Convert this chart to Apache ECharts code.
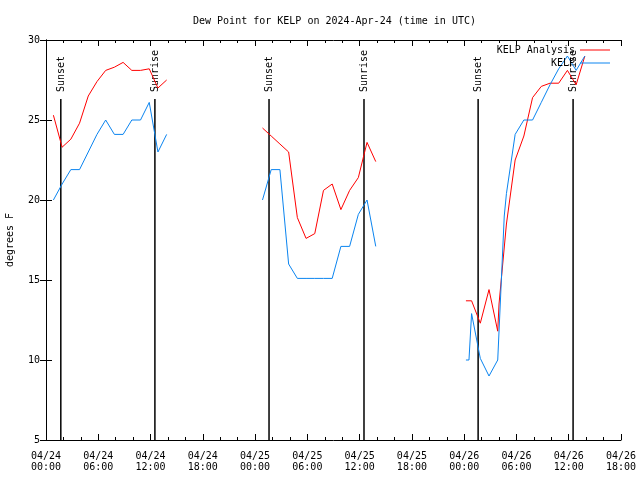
<!DOCTYPE html>
<html>
<head>
<meta charset="utf-8">
<script src="https://cdn.jsdelivr.net/npm/echarts@6/dist/echarts.min.js"></script>
<style>html,body{margin:0;padding:0;background:#fff}#c{width:640px;height:480px}</style>
</head>
<body>
<div id="c"></div>
<script>
// hours since 2024-04-24 00:00 UTC
var analysisHours = [0.85,1.85,2.85,3.85,4.85,5.85,6.85,7.85,8.85,9.85,10.85,11.85,12.85,13.85,
  19,
  24.85,25.85,26.85,27.85,28.85,29.85,30.85,31.85,32.85,33.85,34.85,35.85,36.85,37.85,
  43,
  48.2,48.85,49.85,50.85,51.85,52.0,52.85,53.85,54.85,55.85,56.85,57.85,58.85,59.85,60.85,61.85];
var analysisValues = [25.3,23.3,23.8,24.8,26.5,27.4,28.1,28.3,28.6,28.1,28.1,28.2,27.0,27.5,
  null,
  24.5,24.0,23.5,23.0,18.9,17.6,17.9,20.6,21.0,19.4,20.6,21.4,23.6,22.4,
  null,
  13.7,13.7,12.3,14.4,11.8,13.5,18.5,22.5,24.0,26.4,27.1,27.3,27.3,28.1,27.2,29.0];

var obsHours = [0.85,1.85,2.85,3.85,4.85,5.85,6.85,7.85,8.85,9.85,10.85,11.85,12.85,13.85,
  19,
  24.85,25.85,26.85,27.85,28.85,29.85,30.85,31.85,32.85,33.85,34.85,35.85,36.85,37.85,
  43,
  48.2,48.55,48.85,49.85,50.85,51.85,52.6,52.85,53.85,54.85,55.85,56.85,57.85,58.85,59.85,60.85,61.85];
var obsValues = [20.0,21.0,21.9,21.9,23.0,24.1,25.0,24.1,24.1,25.0,25.0,26.1,23.0,24.1,
  null,
  20.0,21.9,21.9,16.0,15.1,15.1,15.1,15.1,15.1,17.1,17.1,19.1,20.0,17.1,
  null,
  10.0,10.0,12.9,10.1,9.0,10.0,19.0,20.4,24.1,25.0,25.0,26.1,27.2,28.2,29.0,28.1,29.0];

var eventHours = [1.7, 12.5, 25.6, 36.5, 49.6, 60.5];
var eventLabels = ['Sunset','Sunrise','Sunset','Sunrise','Sunset','Sunrise'];

var seriesNames = ['KELP Analysis', 'KELP'];
var titleText = 'Dew Point for KELP on 2024-Apr-24 (time in UTC)';
var yName = 'degrees F';

function zip(a, b) { return a.map(function (v, i) { return [v, b[i]]; }); }

var FONT = 'DejaVu Sans Mono';
var chart = echarts.init(document.getElementById('c'), null, {renderer: 'canvas'});

function xLabel(v) {
  var day = 24 + Math.floor(v / 24);
  var hh = v % 24;
  return '04/' + day + '\n' + (hh < 10 ? '0' : '') + hh + ':00';
}

var tickCommon = {show: true, inside: true, length: 6, lineStyle: {color: '#000'}};
var minorCommon = {show: true, splitNumber: 3, length: 3, lineStyle: {color: '#000'}};

chart.setOption({
  animation: false,
  backgroundColor: '#fff',
  title: {
    text: titleText, left: 188, top: 11,
    textStyle: {fontFamily: FONT, fontSize: 10, fontWeight: 'normal', color: '#000'}
  },
  legend: {
    data: seriesNames, orient: 'vertical', right: 25, top: 39, align: 'right',
    icon: 'rect', itemWidth: 30, itemHeight: 1, itemGap: 1,
    textStyle: {fontFamily: FONT, fontSize: 10, color: '#000', lineHeight: 12}
  },
  grid: {left: 46, right: 19, top: 40, bottom: 40, containLabel: false, outerBoundsMode: 'none'},
  xAxis: [{
    type: 'value', min: 0, max: 66, interval: 6,
    axisLine: {show: true, lineStyle: {color: '#000', width: 1}},
    axisTick: tickCommon, minorTick: minorCommon,
    splitLine: {show: false},
    axisLabel: {formatter: xLabel, fontFamily: FONT, fontSize: 10, color: '#000', lineHeight: 11, margin: 11}
  }, {
    type: 'value', min: 0, max: 66, interval: 6, position: 'top',
    axisLine: {show: true, lineStyle: {color: '#000', width: 1}},
    axisTick: tickCommon, minorTick: minorCommon,
    splitLine: {show: false}, axisLabel: {show: false}
  }],
  yAxis: [{
    type: 'value', min: 5, max: 30, interval: 5,
    name: yName, nameLocation: 'middle', nameGap: 31,
    nameTextStyle: {fontFamily: FONT, fontSize: 10, color: '#000'},
    axisLine: {show: true, lineStyle: {color: '#000', width: 1}},
    axisTick: tickCommon,
    splitLine: {show: false},
    axisLabel: {fontFamily: FONT, fontSize: 10, color: '#000', margin: 6}
  }, {
    type: 'value', min: 5, max: 30, interval: 5, position: 'right',
    axisLine: {show: true, lineStyle: {color: '#000', width: 1}},
    axisTick: tickCommon,
    splitLine: {show: false}, axisLabel: {show: false}
  }],
  series: [{
    type: 'custom', xAxisIndex: 0, yAxisIndex: 0, clip: false, silent: true,
    data: eventHours.map(function (h) { return [h, 5]; }),
    renderItem: function (params, api) {
      var b = api.coord([api.value(0), 5]);
      var t = api.coord([api.value(0), 30]);
      return {type: 'group', children: [
        {type: 'line', shape: {x1: b[0], y1: b[1], x2: b[0], y2: t[1] + 59},
          style: {stroke: '#000', lineWidth: 1.5}},
        {type: 'text', x: b[0] + 0.5, y: t[1] + 52, rotation: Math.PI / 2,
          style: {text: eventLabels[params.dataIndex], fill: '#000',
            font: '10px "' + FONT + '"', align: 'left', verticalAlign: 'middle'}}
      ]};
    }
  }, {
    name: seriesNames[0], type: 'line', data: zip(analysisHours, analysisValues),
    symbol: 'none', connectNulls: false, color: '#ff0000',
    lineStyle: {width: 1, color: '#ff0000'}
  }, {
    name: seriesNames[1], type: 'line', data: zip(obsHours, obsValues),
    symbol: 'none', connectNulls: false, color: '#0a84f0',
    lineStyle: {width: 1, color: '#0a84f0'}
  }]
});
</script>
</body>
</html>
